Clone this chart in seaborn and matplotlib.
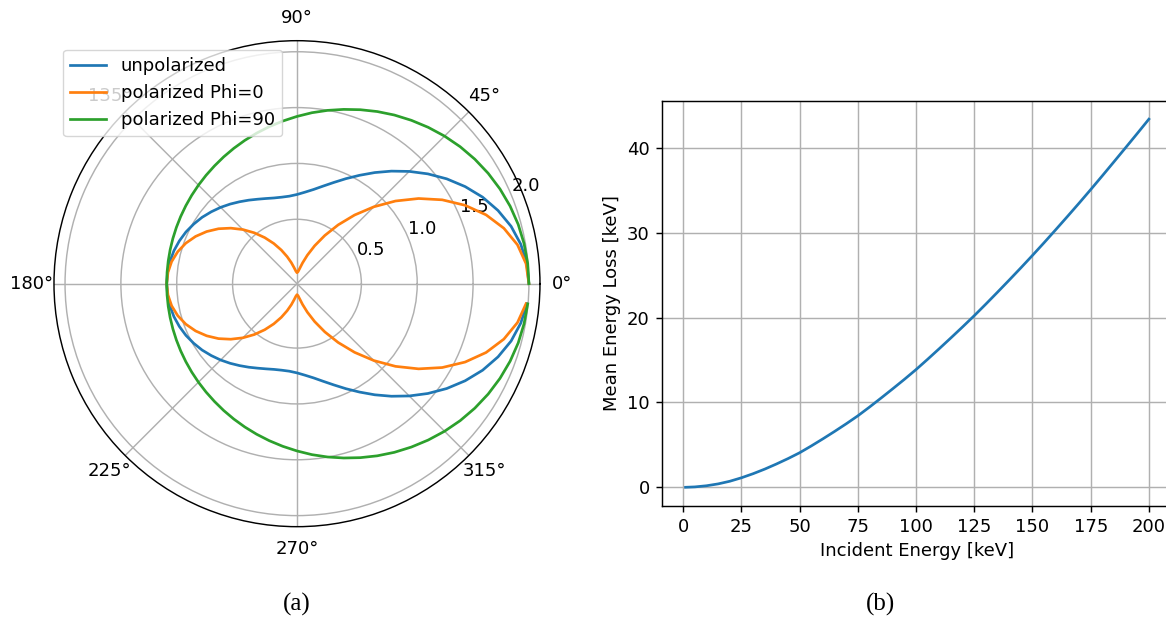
import numpy as np
import pandas as pd
import matplotlib
matplotlib.use("Agg")
import matplotlib.pyplot as plt
import seaborn as sns

# Scattering angle samples in degrees (5 degree steps, 0..355)
angles_deg = list(range(0, 360, 5))

# Differential cross-section (arb. units) at 100 keV
unpolarized = [
    2.000, 1.989, 1.958, 1.908, 1.839, 1.757, 1.662, 1.560, 1.453, 1.345,
    1.239, 1.138, 1.044, 0.961, 0.888, 0.828, 0.780, 0.746, 0.722, 0.710,
    0.710, 0.718, 0.735, 0.758, 0.787, 0.819, 0.854, 0.890, 0.925, 0.960,
    0.991, 1.020, 1.044, 1.064, 1.078, 1.087, 1.090, 1.087, 1.078, 1.064,
    1.044, 1.020, 0.991, 0.960, 0.925, 0.890, 0.854, 0.819, 0.787, 0.758,
    0.735, 0.718, 0.710, 0.710, 0.722, 0.746, 0.780, 0.828, 0.888, 0.961,
    1.044, 1.138, 1.239, 1.345, 1.453, 1.560, 1.662, 1.757, 1.839, 1.908,
    1.958, 1.989,
]
polarized_phi0 = [
    2.000, 1.982, 1.928, 1.841, 1.725, 1.584, 1.425, 1.253, 1.075, 0.897,
    0.726, 0.566, 0.422, 0.298, 0.195, 0.116, 0.061, 0.031, 0.022, 0.036,
    0.068, 0.118, 0.181, 0.256, 0.339, 0.427, 0.518, 0.609, 0.697, 0.781,
    0.857, 0.925, 0.983, 1.029, 1.063, 1.083, 1.090, 1.083, 1.063, 1.029,
    0.983, 0.925, 0.857, 0.781, 0.697, 0.609, 0.518, 0.427, 0.339, 0.256,
    0.181, 0.118, 0.068, 0.036, 0.022, 0.031, 0.061, 0.116, 0.195, 0.298,
    0.422, 0.566, 0.726, 0.897, 1.075, 1.253, 1.425, 1.584, 1.725, 1.841,
    1.928, 1.982,
]
polarized_phi90 = [
    2.000, 1.997, 1.988, 1.974, 1.954, 1.929, 1.900, 1.867, 1.831, 1.792,
    1.751, 1.709, 1.667, 1.624, 1.581, 1.539, 1.499, 1.460, 1.421, 1.385,
    1.351, 1.319, 1.289, 1.261, 1.235, 1.211, 1.190, 1.171, 1.154, 1.139,
    1.126, 1.115, 1.106, 1.099, 1.094, 1.091, 1.090, 1.091, 1.094, 1.099,
    1.106, 1.115, 1.126, 1.139, 1.154, 1.171, 1.190, 1.211, 1.235, 1.261,
    1.289, 1.319, 1.351, 1.385, 1.421, 1.460, 1.499, 1.539, 1.581, 1.624,
    1.667, 1.709, 1.751, 1.792, 1.831, 1.867, 1.900, 1.929, 1.954, 1.974,
    1.988, 1.997,
]
series_labels = ["unpolarized", "polarized Phi=0", "polarized Phi=90"]
radial_ticks = [0.5, 1.0, 1.5, 2.0]

# Mean energy loss vs incident photon energy
incident_energy = [1, 5, 10, 15, 20, 25, 30, 35, 40, 45, 50, 55, 60, 65, 70,
                   75, 80, 85, 90, 95, 100, 105, 110, 115, 120, 125, 130, 135,
                   140, 145, 150, 155, 160, 165, 170, 175, 180, 185, 190, 195,
                   200]
mean_energy_loss = [0.0, 0.045, 0.18, 0.40, 0.71, 1.12, 1.60, 2.14, 2.74,
                    3.38, 4.07, 4.87, 5.71, 6.58, 7.48, 8.42, 9.45, 10.52,
                    11.61, 12.72, 13.87, 15.09, 16.34, 17.61, 18.90, 20.22,
                    21.59, 22.99, 24.41, 25.85, 27.32, 28.82, 30.35, 31.90,
                    33.47, 35.07, 36.70, 38.35, 40.01, 41.68, 43.37]
energy_ticks = [0, 25, 50, 75, 100, 125, 150, 175, 200]

scale = 1.3
plt.rcParams.update({
    "font.size": 10 * scale,
    "lines.linewidth": 1.5 * scale,
    "grid.linewidth": 0.8 * scale,
    "axes.linewidth": 0.8 * scale,
    "xtick.major.size": 3.5 * scale,
    "ytick.major.size": 3.5 * scale,
    "xtick.major.width": 0.8 * scale,
    "ytick.major.width": 0.8 * scale,
    "xtick.major.pad": 3.5 * scale,
    "ytick.major.pad": 3.5 * scale,
})

fig = plt.figure(figsize=(11.66, 6.23), dpi=100)

# (a) polar angular distribution
ax_p = fig.add_axes([0.0463, 0.1546, 0.4168, 0.7801], projection="polar")
theta = np.deg2rad(angles_deg)
polar_df = pd.DataFrame({
    "theta": np.concatenate([theta] * 3),
    "r": np.concatenate([unpolarized, polarized_phi0, polarized_phi90]),
    "case": np.repeat(series_labels, len(angles_deg)),
})
sns.lineplot(data=polar_df, x="theta", y="r", hue="case", hue_order=series_labels,
             palette=["#1f77b4", "#ff7f0e", "#2ca02c"], estimator=None,
             sort=False, ax=ax_p)
ax_p.set(xlabel="", ylabel="")
ax_p.set_ylim(-0.0765, 2.099)
ax_p.set_rticks(radial_ticks)
sns.move_legend(ax_p, "upper left", title=None, frameon=True)

# (b) mean energy loss; the axes runs slightly past the right edge
ax_e = fig.add_axes([0.5681, 0.1883, 0.4371, 0.6500])
sns.lineplot(x=incident_energy, y=mean_energy_loss, color="#1f77b4", ax=ax_e)
ax_e.set_xticks(energy_ticks)
ax_e.set_xlabel("Incident Energy [keV]")
ax_e.set_ylabel("Mean Energy Loss [keV]")
ax_e.grid(True)

serif = ["Liberation Serif", "DejaVu Serif"]
fig.text(297 / 1166, 1 - 604 / 623, "(a)", ha="center", va="center",
         family=serif, fontsize=18)
fig.text(880 / 1166, 1 - 604 / 623, "(b)", ha="center", va="center",
         family=serif, fontsize=18)

fig.savefig("out.png", dpi=100)
